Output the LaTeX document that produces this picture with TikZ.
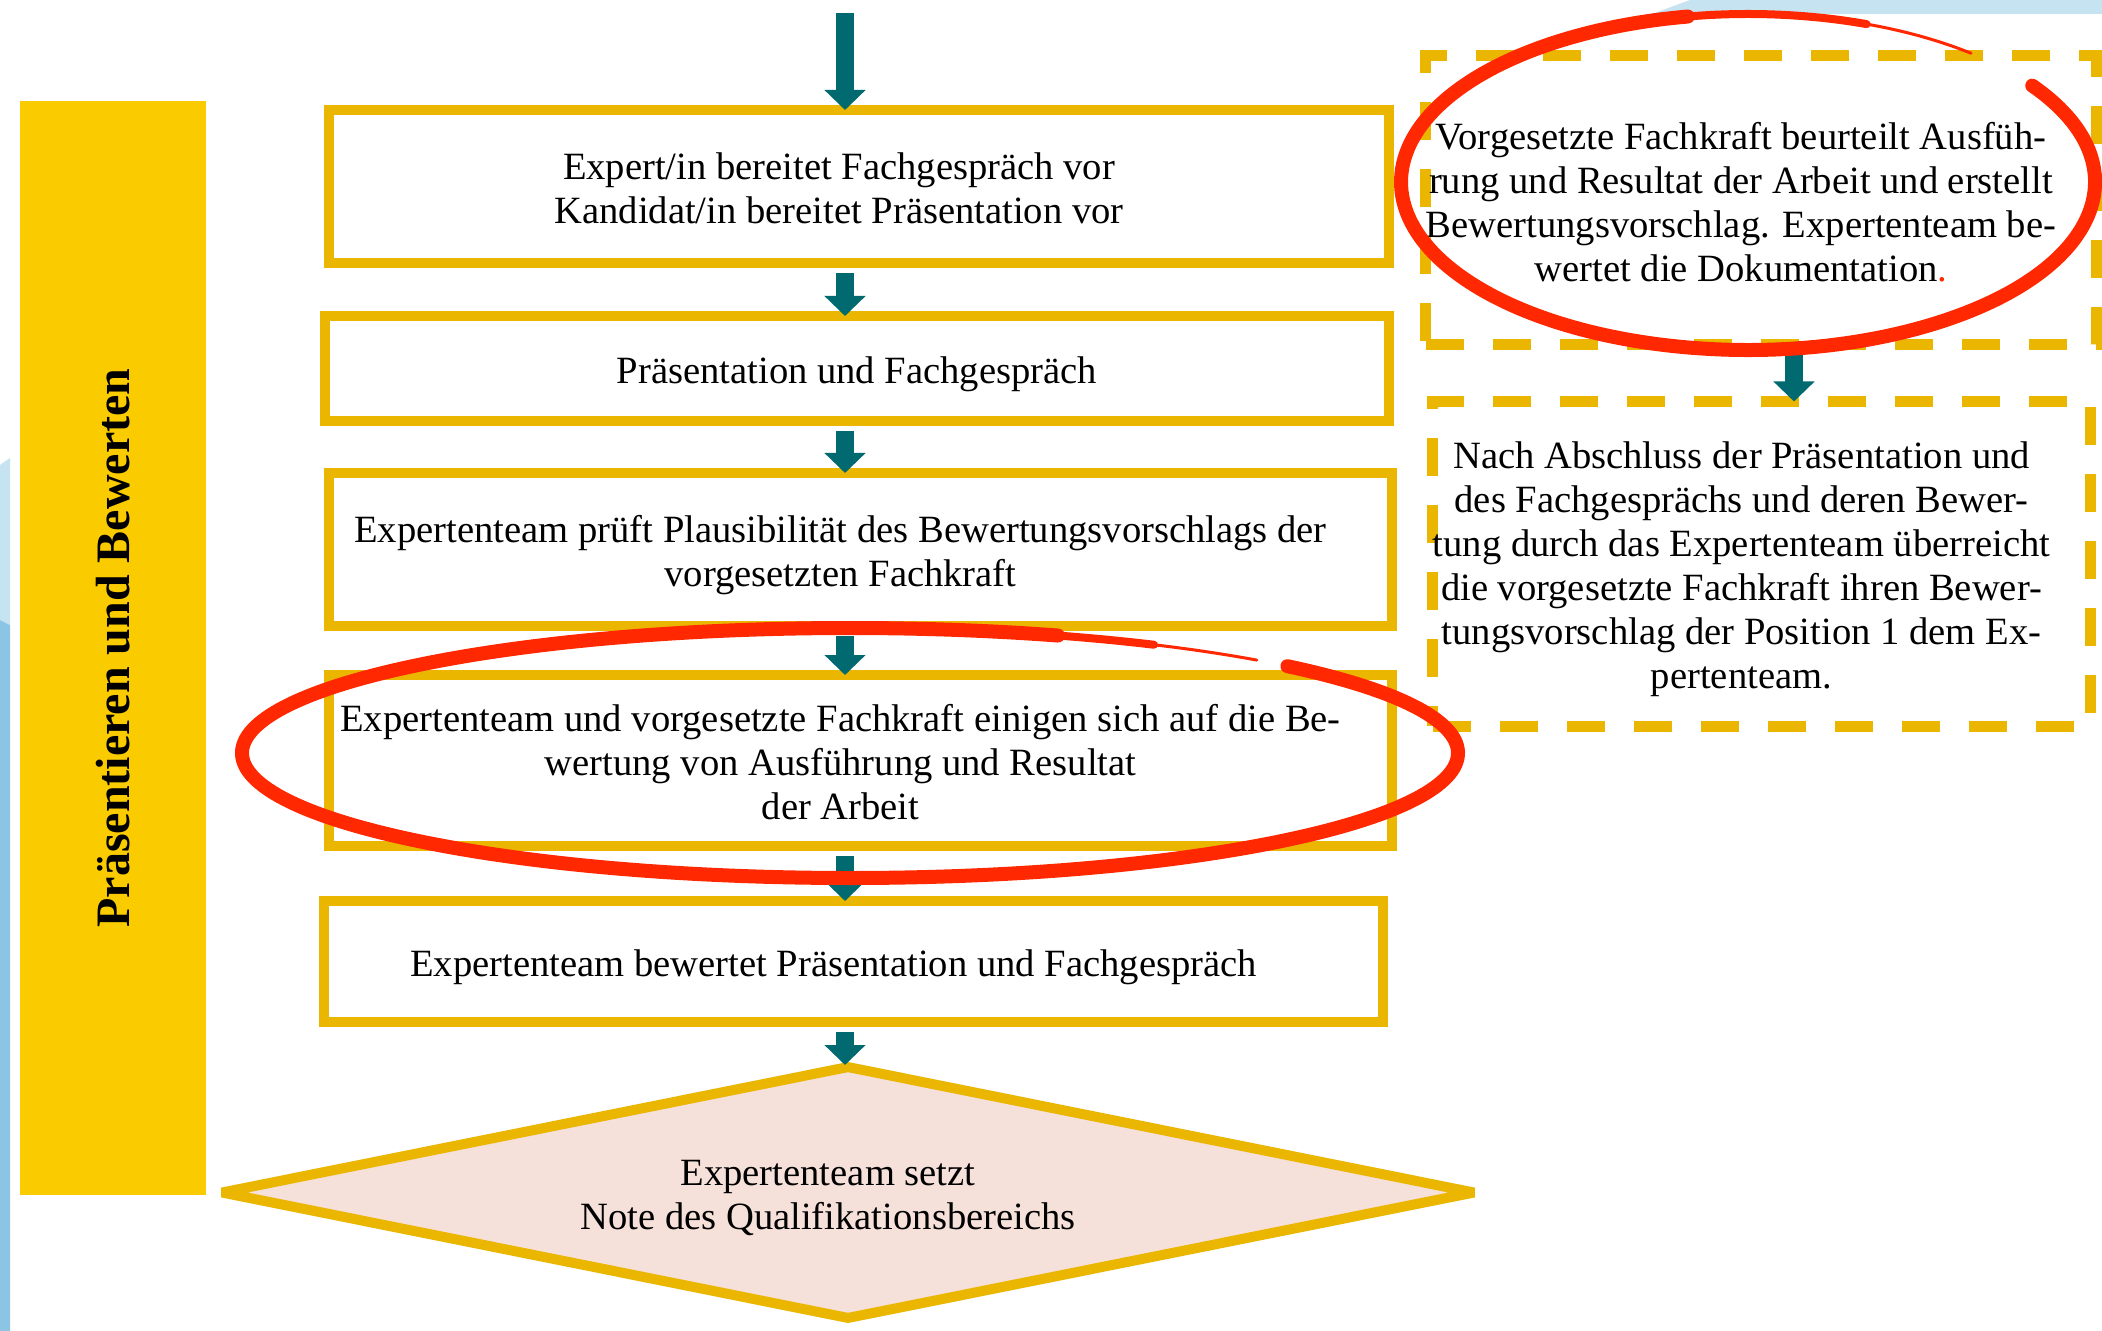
\documentclass[tikz,border=0pt]{standalone}
\usepackage{fontspec}
\setmainfont{Liberation Serif}
\usetikzlibrary{arrows.meta,shapes.geometric}
\definecolor{boxyellow}{RGB}{234,182,0}
\definecolor{baryellow}{RGB}{250,204,0}
\definecolor{flowteal}{RGB}{0,106,112}
\definecolor{notepink}{RGB}{246,225,218}
\definecolor{markred}{RGB}{255,40,0}
\definecolor{paleblue}{RGB}{198,227,241}
\definecolor{midblue}{RGB}{140,197,227}
\newcommand{\lefttext}[2][20pt]{\begin{tabular}{@{}c@{\hspace{#1}}}\noalign{\vspace{6pt}}#2\end{tabular}}

\begin{document}
\begin{tikzpicture}[x=0.5pt, y=-0.5pt,
    box/.style={draw=boxyellow, line width=5pt, fill=white, inner sep=0pt, font=\fontsize{19.3}{22}\selectfont},
    dashbox/.style={draw=boxyellow, line width=5.5pt, dash pattern=on 19pt off 14.5pt, inner sep=0pt, font=\fontsize{19.3}{22}\selectfont},
    arrow/.style={-{Triangle[width=20pt,length=10pt]}, line width=9pt, draw=flowteal, shorten <=2.5pt, shorten >=-2.5pt},
    ring/.style={draw=markred, line width=7pt, line cap=round}
]
\useasboundingbox (0,0) rectangle (2102,1331);

\fill[paleblue] (0,465) -- (10,458) -- (10,625) -- (0,620) -- cycle;
\fill[midblue] (0,620) -- (10,625) -- (10,1331) -- (0,1331) -- cycle;
\fill[paleblue] (1652,14) -- (1690,0) -- (2102,0) -- (2102,14) -- cycle;

\node[fill=baryellow, rotate=90, minimum width=547pt, minimum height=93pt, inner sep=0pt, font=\bfseries\fontsize{24}{28}\selectfont] (side) at (113,648) {Präsentieren und Bewerten};

\node[box, minimum width=530pt, minimum height=76.5pt] (b1) at (859,186.5) {\lefttext{Expert/in bereitet Fachgespräch vor\\Kandidat/in bereitet Präsentation vor}};
\node[box, minimum width=532pt, minimum height=52.5pt] (b2) at (857,368.5) {\lefttext[0pt]{Präsentation und Fachgespräch}};
\node[box, minimum width=531.5pt, minimum height=76.5pt] (b3) at (860.5,549.5) {\lefttext{Expertenteam prüft Plausibilität des Bewertungsvorschlags der\\vorgesetzten Fachkraft}};
\node[box, minimum width=531.5pt, minimum height=85.5pt] (b4) at (860.5,760.5) {\lefttext{Expertenteam und vorgesetzte Fachkraft einigen sich auf die Be-\\wertung von Ausführung und Resultat\\der Arbeit}};
\node[box, minimum width=529.5pt, minimum height=60.5pt] (b5) at (853.5,961.5) {\lefttext{Expertenteam bewertet Präsentation und Fachgespräch}};
\node[box, shape=diamond, aspect=4.93, fill=notepink, line join=bevel, minimum width=628pt, minimum height=127.5pt] (note) at (848,1192.5) {\lefttext{Expertenteam setzt\\Note des Qualifikationsbereichs}};

\node[dashbox, minimum width=328pt, minimum height=144.5pt] (da) at (1761,200.5) {\lefttext{Vorgesetzte Fachkraft beurteilt Ausfüh-\\rung und Resultat der Arbeit und erstellt\\Bewertungsvorschlag. Expertenteam be-\\wertet die Dokumentation\textcolor{markred}{.}}};
\node[dashbox, minimum width=324.5pt, minimum height=162pt] (db) at (1761.5,564) {\lefttext{Nach Abschluss der Präsentation und\\des Fachgesprächs und deren Bewer-\\tung durch das Expertenteam überreicht\\die vorgesetzte Fachkraft ihren Bewer-\\tungsvorschlag der Position 1 dem Ex-\\pertenteam.}};

\coordinate (in) at (845,8);
\coordinate (rx) at (1794,0);
\draw[arrow] (in) -- (b1.north -| in);
\draw[arrow] (b1.south -| in) -- (b2.north -| in);
\draw[arrow] (b2.south -| in) -- (b3.north -| in);
\draw[arrow] (b3.south -| in) -- (b4.north -| in);
\draw[arrow] (b4.south -| in) -- (b5.north -| in);
\draw[arrow] (b5.south -| in) -- (note.north -| in);
\draw[arrow] (da.south -| rx) -- (db.north -| rx);

\coordinate (ca) at (1748,182);
\coordinate (cb) at (850,753);
\draw[ring] (ca) ++(35:173.5pt and 84pt) arc[start angle=35, end angle=-260, x radius=173.5pt, y radius=84pt];
\draw[ring, line width=4pt] (ca) ++(100:173.5pt and 84pt) arc[start angle=100, end angle=70, x radius=173.5pt, y radius=84pt];
\draw[ring, line width=1.5pt] (ca) ++(70:173.5pt and 84pt) arc[start angle=70, end angle=50, x radius=173.5pt, y radius=84pt];
\draw[ring] (cb) ++(44:304pt and 62.5pt) arc[start angle=44, end angle=-290, x radius=304pt, y radius=62.5pt];
\draw[ring, line width=4pt] (cb) ++(70:304pt and 62.5pt) arc[start angle=70, end angle=60, x radius=304pt, y radius=62.5pt];
\draw[ring, line width=1.5pt] (cb) ++(60:304pt and 62.5pt) arc[start angle=60, end angle=48, x radius=304pt, y radius=62.5pt];
\end{tikzpicture}
\end{document}
